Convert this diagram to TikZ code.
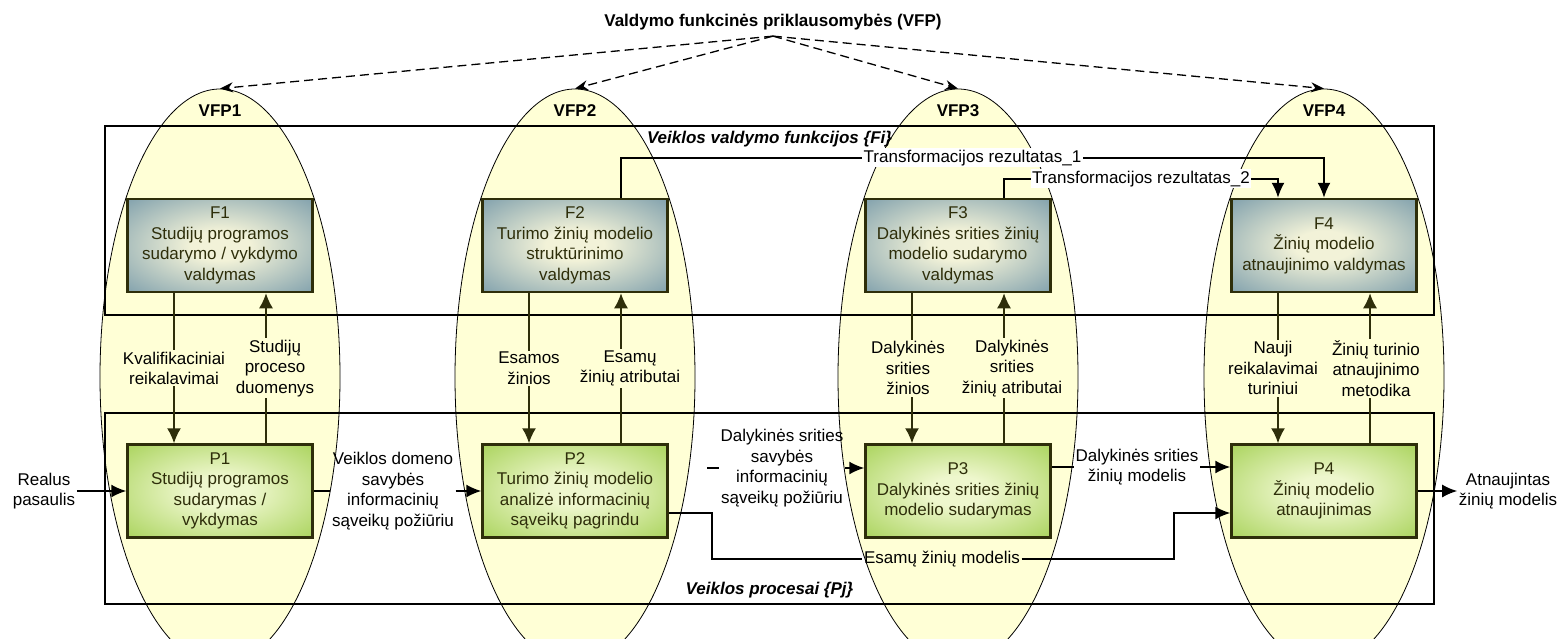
\documentclass[tikz,border=0pt]{standalone}
\usepackage{fontspec}
\setmainfont{Liberation Sans}
\usetikzlibrary{shapes.geometric,arrows.meta,positioning}
\definecolor{vfpfill}{RGB}{255,255,214}
\definecolor{olivedark}{RGB}{46,46,10}
\definecolor{fouter}{RGB}{96,137,160}
\definecolor{finner}{RGB}{242,242,216}
\definecolor{pouter}{RGB}{150,201,60}
\definecolor{pinner}{RGB}{238,247,205}
\pgfdeclareradialshading{fshade}{\pgfpoint{0bp}{0bp}}{color(0bp)=(finner); color(8bp)=(finner); color(44bp)=(fouter); color(50bp)=(fouter)}
\pgfdeclareradialshading{pshade}{\pgfpoint{0bp}{0bp}}{color(0bp)=(pinner); color(8bp)=(pinner); color(44bp)=(pouter); color(50bp)=(pouter)}

\begin{document}
\begin{tikzpicture}
    [x=1pt, y=-1pt, font=\fontsize{17}{20.5}\selectfont,
      vfp/.style={ellipse, draw=black, line width=0.8pt, fill=vfpfill,
        minimum width=240pt, minimum height=576pt, inner sep=0pt},
      vfptitle/.style={font=\fontsize{17}{20.5}\selectfont\bfseries, inner xsep=2pt, inner ysep=5.5pt},
      vfplbl/.style={font=\fontsize{17}{20.5}\selectfont\bfseries},
      framebox/.style={draw=black, line width=1.8pt, minimum width=1329pt, inner sep=0pt},
      flbl/.style={font=\fontsize{17}{20.5}\selectfont\bfseries\itshape, inner sep=1pt},
      fbox/.style={draw=olivedark, line width=2.5pt, shading=fshade, text=olivedark,
        minimum width=185pt, minimum height=93pt, align=center, inner sep=2pt},
      pbox/.style={fbox, shading=pshade},
      dep/.style={line width=1.3pt, dash pattern=on 9pt off 5pt, -{Stealth[length=13pt,width=10pt]}},
      flow/.style={draw=olivedark, line width=1.6pt, -{Latex[length=15pt,width=14pt]}},
      wire/.style={draw=black, line width=1.6pt},
      link/.style={wire, -{Latex[length=15pt,width=13pt]}},
      lbl/.style={align=center, inner sep=1.5pt},
      ylbl/.style={lbl, fill=vfpfill},
      wlbl/.style={lbl, fill=white}]
    \useasboundingbox (0,0) rectangle (1558,638);

    % functional dependencies
    \node[vfptitle] (vfp) at (773,22.5) {Valdymo funkcinės priklausomybės (VFP)};
    \foreach \i/\x in {1/220,2/575,3/958,4/1324} {
      \node[vfp] (V\i) at (\x,377) {};
      \node[vfplbl] (L\i) at ([yshift=-22pt]V\i.north) {VFP\i};
      \draw[dep] (vfp.south) -- (V\i.north);
    }

    % frames
    \node[framebox, minimum height=189pt] (Fi) at (769.5,220.5) {};
    \node[flbl, below=5pt of Fi.north] (filbl) {Veiklos valdymo funkcijos \{Fi\}};
    \node[framebox, minimum height=191pt] (Pj) at (769.5,508.5) {};
    \node[flbl, above=6pt of Pj.south] (pjlbl) {Veiklos procesai \{Pj\}};

    % functions and processes
    \node[fbox] (F1) at (220,245.5) {F1\\Studijų programos\\sudarymo / vykdymo\\valdymas};
    \node[fbox] (F2) at (575,245.5) {F2\\Turimo žinių modelio\\struktūrinimo\\valdymas};
    \node[fbox] (F3) at (958,245.5) {F3\\Dalykinės srities žinių\\modelio sudarymo\\valdymas};
    \node[fbox] (F4) at (1324,245.5) {F4\\Žinių modelio\\atnaujinimo valdymas};
    \node[pbox] (P1) at (220,491) {P1\\Studijų programos\\sudarymas /\\vykdymas};
    \node[pbox] (P2) at (575,491) {P2\\Turimo žinių modelio\\analizė informacinių\\sąveikų pagrindu};
    \node[pbox] (P3) at (958,491) {P3\\Dalykinės srities žinių\\modelio sudarymas};
    \node[pbox] (P4) at (1324,491) {P4\\Žinių modelio\\atnaujinimas};

    % between functions and processes
    \draw[flow] ([xshift=-46pt]F1.south) -- node[ylbl] {Kvalifikaciniai\\reikalavimai} ([xshift=-46pt]P1.north);
    \draw[flow] ([xshift=46pt]P1.north) -- node[ylbl, xshift=9pt] {Studijų\\proceso\\duomenys} ([xshift=46pt]F1.south);
    \draw[flow] ([xshift=-46pt]F2.south) -- node[ylbl] {Esamos\\žinios} ([xshift=-46pt]P2.north);
    \draw[flow] ([xshift=46pt]P2.north) -- node[ylbl, xshift=9pt] {Esamų\\žinių atributai} ([xshift=46pt]F2.south);
    \draw[flow] ([xshift=-46pt]F3.south) -- node[ylbl, xshift=-4pt] {Dalykinės\\srities\\žinios} ([xshift=-46pt]P3.north);
    \draw[flow] ([xshift=46pt]P3.north) -- node[ylbl, xshift=8pt] {Dalykinės\\srities\\žinių atributai} ([xshift=46pt]F3.south);
    \draw[flow] ([xshift=-46pt]F4.south) -- node[ylbl, xshift=-5pt] {Nauji\\reikalavimai\\turiniui} ([xshift=-46pt]P4.north);
    \draw[flow] ([xshift=46pt]P4.north) -- node[ylbl, xshift=6pt] {Žinių turinio\\atnaujinimo\\metodika} ([xshift=46pt]F4.south);

    % transformation results
    \draw[link] ([xshift=46pt]F2.north) |- node[wlbl, pos=0.75] {Transformacijos rezultatas\_1} ([yshift=40pt]F4.north) -- (F4.north);
    \draw[link] ([xshift=46pt]F3.north) |- node[wlbl, pos=0.75] {Transformacijos rezultatas\_2} ([xshift=-46pt,yshift=19pt]F4.north) -- ([xshift=-46pt]F4.north);

    % process chain
    \node[lbl] (real) at (44,491) {Realus\\pasaulis};
    \draw[link] (real) -- (P1);
    \node[lbl] (vds) at (393,491) {Veiklos domeno\\savybės\\informacinių\\sąveikų požiūriu};
    \draw[wire] (P1) -- (vds);
    \draw[link] (vds) -- (P2);
    \coordinate (dsin) at (707,468);
    \node[lbl] (dss) at (782,468) {Dalykinės srities\\savybės\\informacinių\\sąveikų požiūriu};
    \draw[wire] (dsin) -- (dss.west);
    \draw[link] (dss.east) -- (P3.west |- dss);
    \node[lbl] (dsm) at (1137,467) {Dalykinės srities\\žinių modelis};
    \draw[wire] (P3.east |- dsm) -- (dsm.west);
    \draw[link] (dsm.east) -- (P4.west |- dsm);
    \node[lbl] (ezm) at (942,559) {Esamų žinių modelis};
    \draw[wire] ([yshift=-22pt]P2.east) -- ++(43,0) |- (ezm.west);
    \draw[link] (ezm.east) -| ([xshift=-56pt,yshift=-22pt]P4.west) -- ([yshift=-22pt]P4.west);
    \node[lbl] (atn) at (1508,491) {Atnaujintas\\žinių modelis};
    \draw[link] (P4) -- (atn);
  \end{tikzpicture}
\end{document}
